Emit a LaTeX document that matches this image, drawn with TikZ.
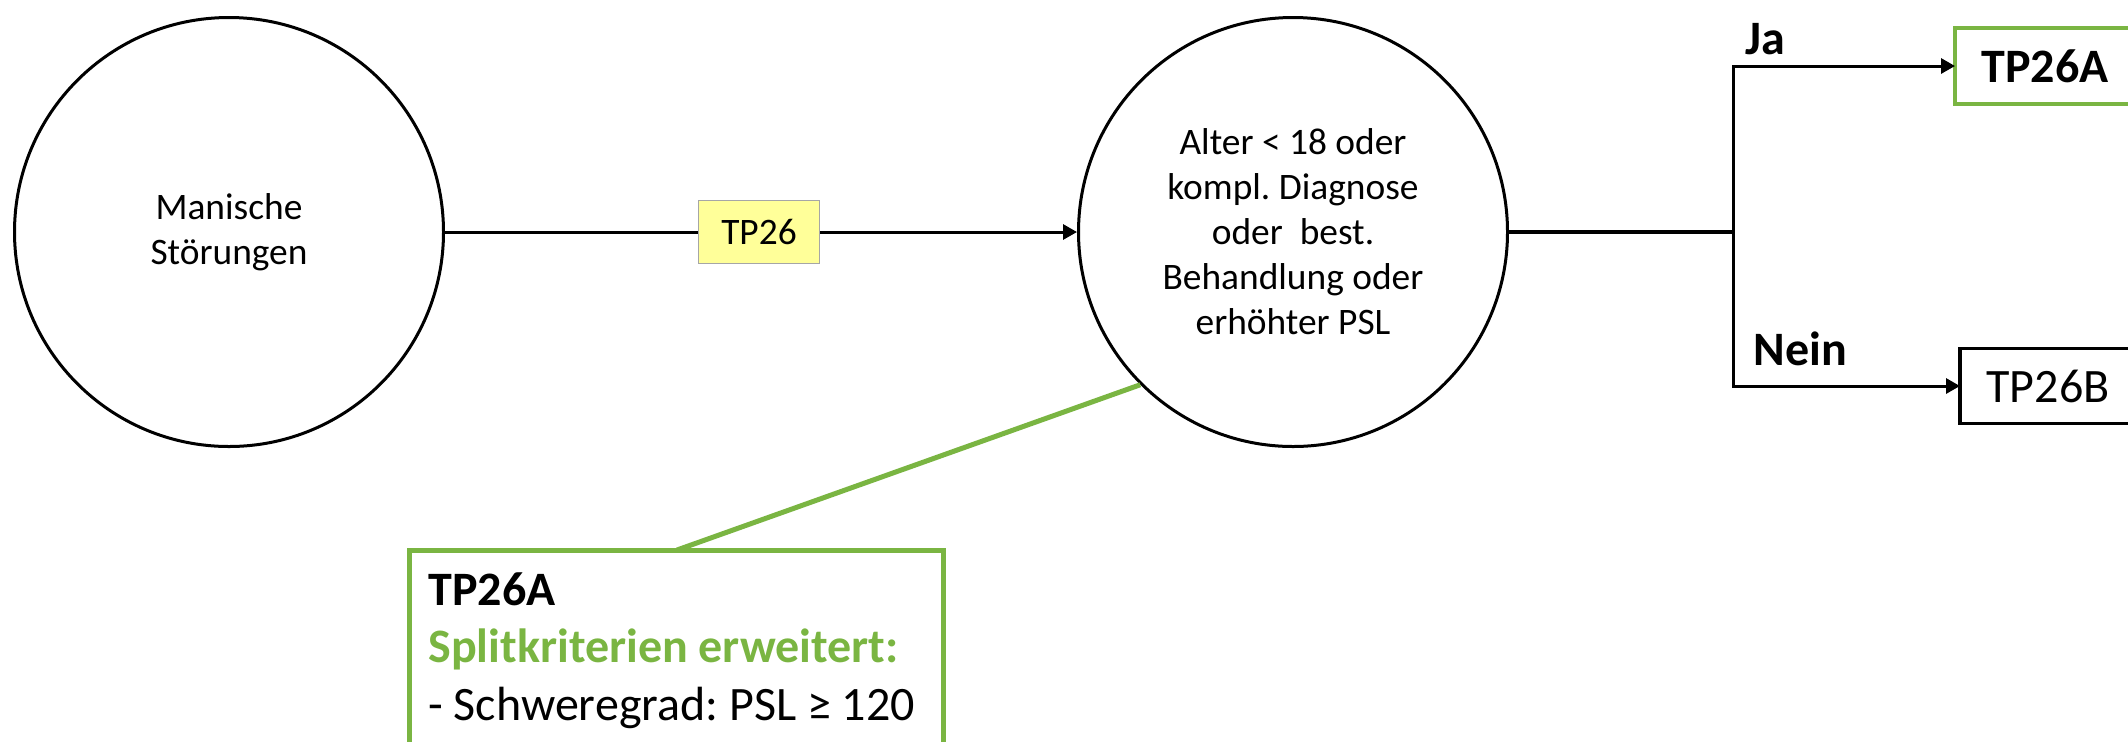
\documentclass[tikz,border=0pt]{standalone}
\usepackage{fontspec}
\setmainfont{Carlito}
\frenchspacing
\usetikzlibrary{arrows.meta,positioning}
\definecolor{splitgreen}{RGB}{122,181,66}
\definecolor{tpyellow}{RGB}{255,255,153}

\begin{document}
\begin{tikzpicture}[x=0.5pt,y=-0.5pt,>={Triangle[length=7pt,width=7.5pt]},
		cond/.style={circle,draw,line width=1.5pt,minimum size=214.5pt,inner sep=0pt,
			align=center,font=\fontsize{18.7}{22.5}\selectfont},
		tpbox/.style={draw=black!35,fill=tpyellow,line width=0.75pt,minimum width=60.5pt,
			minimum height=31.5pt,font=\fontsize{18.7}{22}\selectfont},
		leaf/.style={draw,line width=1.75pt,anchor=west,outer sep=0pt,minimum height=37.5pt,
			font=\fontsize{24}{28}\selectfont},
		answer/.style={anchor=base west,inner sep=0pt,font=\fontsize{24}{28}\selectfont\bfseries},
		note/.style={draw=splitgreen,line width=2.5pt,anchor=north west,outer sep=0pt,
			minimum width=267pt,minimum height=150pt},
		notetext/.style={anchor=base west,inner sep=0pt,font=\fontsize{24}{28}\selectfont}]
	\useasboundingbox (0,0) rectangle (2128,741);
	% decision chain
	\node[cond] (manic) at (229,232) {Manische\\Störungen};
	\node[cond] (split) at (1293,232) {Alter < 18 oder\\kompl. Diagnose\\oder~ best.\\Behandlung oder\\erhöhter PSL};
	\node[tpbox] (tp) at (759,232) {TP26};
	\coordinate (fork) at (1733,232);
	\node[leaf,draw=splitgreen,line width=2pt,minimum width=90pt,minimum height=38pt,
		font=\fontsize{24}{28}\selectfont\bfseries] (tpa) at (1955,66) {TP26A};
	\node[leaf,minimum width=88pt] (tpb) at (1960,386) {TP26B};
	\node[answer] (ja) at (1745,54) {Ja};
	\node[answer] (nein) at (1753,365) {Nein};
	% callout
	\node[note] (info) at (409,550) {};
	\coordinate (tip) at (677,550);
	\node[notetext,font=\fontsize{24}{28}\selectfont\bfseries] (infotitle) at (428,605) {TP26A};
	\node[notetext,font=\fontsize{24}{28}\selectfont\bfseries,text=splitgreen] (infohead) at (428,662) {Splitkriterien erweitert:};
	\node[notetext] (infoline) at (428,720) {- Schweregrad: PSL ≥ 120};

	\draw[line width=1.5pt] (manic) -- (tp);
	\draw[->,line width=1.5pt] (tp) -- (split);
	\draw[line width=2pt] (split.east) -- (fork);
	\draw[->,line width=1.5pt] (fork) |- (tpa);
	\draw[->,line width=1.5pt] (fork) |- (tpb);
	\draw[splitgreen,line width=2.5pt] (split.225) -- (tip);
\end{tikzpicture}
\end{document}
